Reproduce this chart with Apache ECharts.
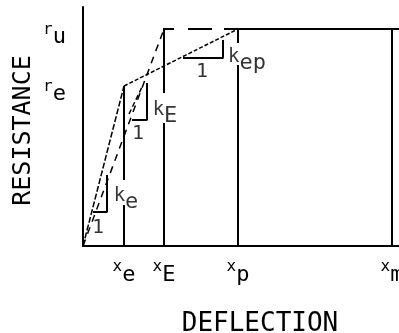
<!DOCTYPE html>
<html lang="en">
<head>
    <meta charset="UTF-8">
    <title>Resistance - deflection</title>
    <script src="https://cdn.jsdelivr.net/npm/echarts@6/dist/echarts.min.js"></script>
    <style>
        html, body { margin: 0; padding: 0; background: #fff; }
        #main { width: 399px; height: 333px; }
    </style>
</head>
<body>
<div id="main"></div>
<script type="text/javascript">
    // tick positions on the axes (deflection / resistance units)
    var xTicks = [41, 81, 155, 309];
    var xTickMain = ['x', 'x', 'x', 'x'];
    var xTickSub = ['e', 'E', 'p', 'm'];
    var yTicks = [160, 217];
    var yTickMain = ['r', 'r'];
    var yTickSub = ['e', 'u'];

    // resistance function
    var elastic = [[0, 0], [41, 160]];
    var elastoPlastic = [[41, 160], [155, 217]];
    var equivalent = [[0, 0], [81, 217]];
    var ultimateDashed = [[80, 217], [141, 217]];
    var ultimateSolid = [[141, 217], [316, 217]];

    // vertical guides (with gaps for the slope labels)
    var guideXe = [[[41, 160], [41, 66]], [[41, 41], [41, 0]]];
    var guideXE = [[[81, 217], [81, 153]], [[81, 123], [81, 0]]];
    var guideXp = [[[155, 217], [155, 203]], [[155, 181], [155, 0]]];
    var guideXm = [[[309, 217], [309, 0]]];

    // slope triangles
    var triKe = [[10, 34], [24, 34], [24, 71]];
    var triKE = [[49, 126], [64, 126], [64, 163]];
    var triKEslope = [[46, 132], [59, 159]];
    var triKep = [[100, 188], [140, 188], [140, 206]];

    // slope labels
    var noteX = [43, 82, 164, 15, 55, 119];
    var noteY = [46, 132, 185, 18, 112, 174];
    var noteMain = ['k', 'k', 'k', '1', '1', '1'];
    var noteSub = ['e', 'E', 'ep', '', '', ''];

    var FONT = 'DejaVu Sans Mono';
    var rich = {
        s: { fontFamily: FONT, fontSize: 16, color: '#000', lineHeight: 27, verticalAlign: 'top' },
        k: { fontFamily: FONT, fontSize: 19, color: '#000', lineHeight: 27, verticalAlign: 'top' },
        b: { fontFamily: FONT, fontSize: 22, color: '#000', lineHeight: 27, verticalAlign: 'bottom' },
        n: { fontFamily: FONT, fontSize: 20, color: '#000' }
    };

    function lineSeries(data, width, type) {
        return {
            type: 'line',
            data: data,
            symbol: 'none',
            silent: true,
            animation: false,
            lineStyle: { color: '#000', width: width, type: type || 'solid' }
        };
    }

    var series = [
        lineSeries(elastic, 1.5, [6, 2]),
        lineSeries(elastoPlastic, 1.5, [4, 2]),
        lineSeries(equivalent, 1.5, [7, 6]),
        lineSeries(ultimateDashed, 2, [11, 14, 24, 12]),
        lineSeries(ultimateSolid, 2),
        lineSeries(triKe, 2),
        lineSeries(triKE, 2),
        lineSeries(triKEslope, 1.5, [5, 3]),
        lineSeries(triKep, 2)
    ];
    [guideXe, guideXE, guideXp, guideXm].forEach(function (g) {
        g.forEach(function (seg) { series.push(lineSeries(seg, 2)); });
    });

    series.push({
        type: 'scatter',
        symbolSize: 0,
        silent: true,
        animation: false,
        data: noteX.map(function (x, i) { return [x, noteY[i], i]; }),
        label: {
            show: true,
            position: 'inside',
            color: '#000',
            formatter: function (p) {
                var i = p.value[2];
                if (!noteSub[i]) return '{n|' + noteMain[i] + '}';
                return '{k|' + noteMain[i] + '}{b|' + noteSub[i] + '}';
            },
            rich: rich
        }
    });

    var chart = echarts.init(document.getElementById('main'));
    chart.setOption({
        backgroundColor: '#fff',
        animation: false,
        grid: { left: 83, right: 0, top: 7, bottom: 87, outerBoundsMode: 'none' },
        xAxis: {
            type: 'value',
            min: 0,
            max: 316,
            name: 'DEFLECTION',
            nameLocation: 'middle',
            nameGap: 65,
            nameMoveOverlap: false,
            nameTextStyle: { fontFamily: FONT, fontSize: 26, color: '#000', padding: [0, 0, 0, 38] },
            axisLine: { show: true, lineStyle: { color: '#000', width: 2 } },
            axisTick: { show: false },
            splitLine: { show: false },
            axisLabel: {
                customValues: xTicks,
                margin: 13,
                color: '#000',
                formatter: function (v) {
                    var i = xTicks.indexOf(v);
                    return '{s|' + xTickMain[i] + '}{b|' + xTickSub[i] + '}';
                },
                rich: rich
            }
        },
        yAxis: {
            type: 'value',
            min: 0,
            max: 239,
            name: 'RESISTANCE',
            nameLocation: 'middle',
            nameGap: 47,
            nameMoveOverlap: false,
            nameTextStyle: { fontFamily: FONT, fontSize: 25, color: '#000', padding: [0, 8, 0, 0] },
            axisLine: { show: true, lineStyle: { color: '#000', width: 2 } },
            axisTick: { show: false },
            splitLine: { show: false },
            axisLabel: {
                customValues: yTicks,
                margin: 17,
                color: '#000',
                padding: [12, 0, 0, 0],
                formatter: function (v) {
                    var i = yTicks.indexOf(v);
                    return '{s|' + yTickMain[i] + '}{b|' + yTickSub[i] + '}';
                },
                rich: rich
            }
        },
        series: series
    });
</script>
</body>
</html>
